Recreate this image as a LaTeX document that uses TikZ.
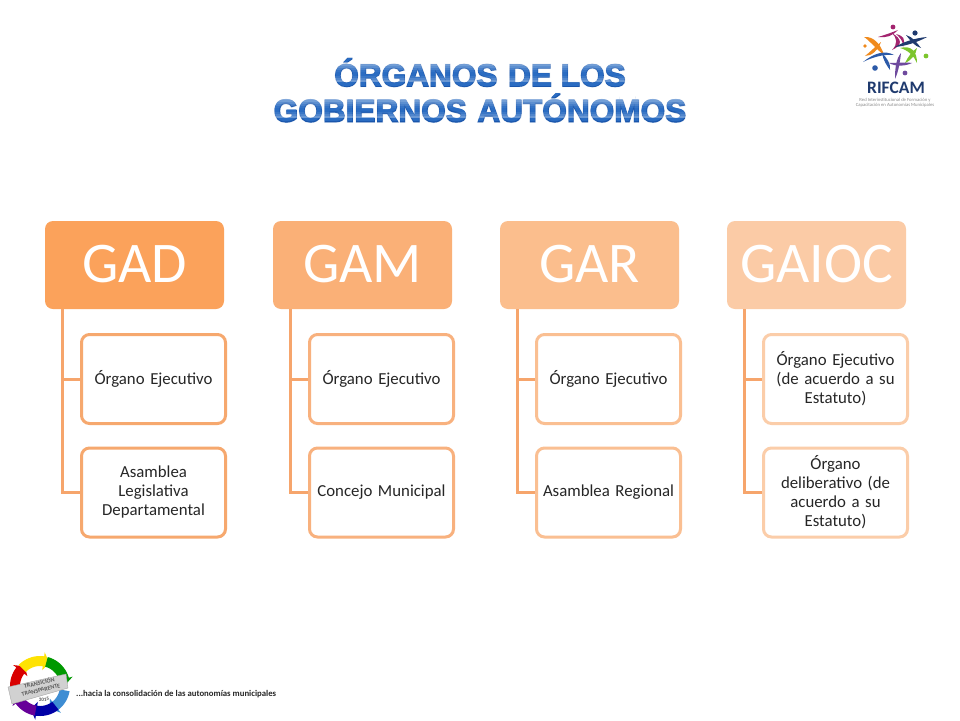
\documentclass[tikz,border=0pt]{standalone}
\usepackage{fontspec}
\setmainfont{Carlito}
\newfontfamily\titleA[FakeBold=3]{Liberation Sans Bold}
\newfontfamily\titleB{Liberation Sans Bold}
\newfontfamily\titleH[FakeBold=5.5]{Liberation Sans Bold}
\definecolor{cA}{HTML}{FBA25B}
\definecolor{cB}{HTML}{FAB077}
\definecolor{cC}{HTML}{FBBE8D}
\definecolor{cD}{HTML}{FBCBA6}
\definecolor{bA}{HTML}{F6A86E}
\definecolor{bB}{HTML}{F8B17E}
\definecolor{bC}{HTML}{FABF92}
\definecolor{bD}{HTML}{FBCDA9}
\definecolor{conn}{HTML}{F6A56C}
\definecolor{tdark}{HTML}{1A56AC}
\definecolor{tmid}{HTML}{2A6CC2}
\definecolor{thalo}{HTML}{D5E0EE}
\definecolor{nv}{HTML}{1F3A6E}
\definecolor{lgO}{HTML}{F08A1D}
\definecolor{lgM}{HTML}{A3246F}
\definecolor{lgG}{HTML}{7CC52C}
\definecolor{lgB}{HTML}{2C5AA8}
\definecolor{lgP}{HTML}{6F4A9E}
\tikzset{
  head/.style={rounded corners=8pt,fill=#1,draw=none,minimum width=179pt,minimum height=88pt,text=white,font=\fontsize{57.5}{58}\selectfont,inner sep=0pt},
  child/.style={rounded corners=8pt,draw=#1,line width=3pt,fill=white,minimum width=144pt,minimum height=89pt,text width=140pt,align=center,inner sep=2pt,font=\fontsize{16.8}{19}\selectfont,text=black!85},
  connline/.style={draw=conn,line width=3pt},
  tline/.style={font=\fontsize{31.6}{31.6}\selectfont,inner sep=0pt}
}
\newcommand{\ringseg}[3]{%
 \fill[#1] plot[smooth,domain=#2:#3-14,samples=12] ({40+30*cos(\x)},{686+30*sin(\x)})
  -- ({40+34*cos(#3-14)},{686+34*sin(#3-14)}) -- ({40+25*cos(#3)},{686+25*sin(#3)}) -- ({40+16*cos(#3-14)},{686+16*sin(#3-14)})
  -- plot[smooth,domain=#3-14:#2,samples=12] ({40+20*cos(\x)},{686+20*sin(\x)}) -- cycle;}
% tapered stroke: colour, start, control 1, control 2, end, offset of the return controls
\newcommand{\sw}[6]{\fill[#1] (#2) .. controls (#3) and (#4) .. (#5) .. controls ($(#4)+(#6)$) and ($(#3)+(#6)$) .. (#2) -- cycle;}
\usetikzlibrary{calc}
\begin{document}
\begin{tikzpicture}[x=1pt,y=-1pt]
\useasboundingbox (0,0) rectangle (960,720);
\fill[white] (0,0) rectangle (960,720);

% title
\node[tline,text=thalo] (t1h) at (480,72.5) {\titleH ÓRGANOS\,\,DE LOS};
\node[tline,text=thalo] (t2h) at (480,108) {\titleH GOBIERNOS\,\,AUTÓNOMOS};
\node[tline,text=tdark] (t1a) at (480,72.5) {\titleA ÓRGANOS\,\,DE LOS};
\node[tline,text=tdark] (t2a) at (480,108) {\titleA GOBIERNOS\,\,AUTÓNOMOS};
\node[tline,text=tmid] (t1b) at (480,72.5) {\titleB ÓRGANOS\,\,DE LOS};
\node[tline,text=tmid] (t2b) at (480,108) {\titleB GOBIERNOS\,\,AUTÓNOMOS};
\foreach \yy/\op in {2/.42,4/.34,6/.24,8/.14,10/.05,16/.08,18/.18,20/.3}{
  \fill[white,opacity=\op] (270,60+\yy) rectangle (690,62+\yy);
  \fill[white,opacity=\op] (270,95.5+\yy) rectangle (690,97.5+\yy);
}

% organigram
\node[head=cA] (gad) at (134.5,265) {\raisebox{2pt}{GAD}};
\node[head=cB] (gam) at (362.5,265) {\raisebox{2pt}{GAM}};
\node[head=cC] (gar) at (589.5,265) {\raisebox{2pt}{GAR}};
\node[head=cD] (gaioc) at (816.5,265) {\raisebox{2pt}{GAIOC}};
\node[child=bA] (gad1) at (153.5,379) {Órgano Ejecutivo};
\node[child=bA] (gad2) at (153.5,492.5) {Asamblea\\Legislativa\\Departamental};
\node[child=bB] (gam1) at (381.5,379) {Órgano Ejecutivo};
\node[child=bB] (gam2) at (381.5,492.5) {Concejo Municipal};
\node[child=bC] (gar1) at (608.5,379) {Órgano Ejecutivo};
\node[child=bC] (gar2) at (608.5,492.5) {Asamblea Regional};
\node[child=bD] (gaioc1) at (835.5,379) {Órgano Ejecutivo\\(de acuerdo a su\\Estatuto)};
\node[child=bD] (gaioc2) at (835.5,492.5) {Órgano\\deliberativo (de\\acuerdo a su\\Estatuto)};
\foreach \h in {gad,gam,gar,gaioc}{
  \draw[connline] ([xshift=17.5pt]\h.south west) |- (\h1.west);
  \draw[connline] ([xshift=17.5pt]\h.south west) |- (\h2.west);
}

% RIFCAM logo
\sw{lgO}{864,37}{874,36}{881,45}{884,55}{-5,4}
\sw{lgO}{865,56}{872,56}{878,50}{881,42}{-2,-4}
\fill[lgO] (865,46) circle (1.8pt);
\sw{lgM}{878,37}{887,38}{892,36}{898,30}{1,-4}
\sw{lgM}{892,33}{897,38}{898,44}{892,50}{5,1}
\sw{lgM}{896,34}{900,38}{903,40}{903,47}{3,-2}
\fill[lgM] (893,27) circle (2.4pt);
\sw{nv}{895,47}{906,46}{918,42}{927,37}{-3,-4}
\sw{nv}{906,35}{910,40}{914,46}{921,48}{3,-3}
\fill[nv] (915,33) circle (2.6pt);
\sw{lgG}{900,48}{908,50}{914,56}{917,63}{3,-5}
\sw{lgG}{917,48}{916,54}{912,60}{905,63}{-4,-3}
\fill[lgG] (926,56) circle (2.4pt);
\sw{lgB}{863,62}{873,57}{884,54}{894,55}{1,-4}
\sw{lgB}{882,53}{883,60}{887,66}{890,70}{4,-2}
\fill[lgB] (875,68) circle (2.8pt);
\sw{lgP}{889,63}{896,67}{906,66}{912,63}{-1,-4}
\sw{lgP}{901,53}{900,61}{899,70}{895,79}{-4,-2}
\fill[lgP] (905,73) circle (2.4pt);
\node[font=\bfseries\fontsize{17.5}{17.5}\selectfont,text=nv,inner sep=0pt] (rifcam) at (896,88) {RIFCAM};
\node[font=\fontsize{4.7}{5.2}\selectfont,text=black!45,inner sep=0pt,align=center] (rifsub) at (895,103) {Red Interinstitucional de Formación y\\Capacitación en Autonomías Municipales};

% transition logo
\ringseg{red!85!black}{160}{232}
\ringseg{yellow!85!orange}{225}{292}
\ringseg{green!60!black}{285}{358}
\ringseg{cyan!60!blue!80!white}{10}{66}
\ringseg{blue!65!black}{52}{112}
\ringseg{violet!80!blue}{100}{158}
\fill[black!18,draw=black!35,line width=.4pt] (8,687) -- (66,674) -- (68,688) -- (12,704) -- cycle;
\node[font=\bfseries\fontsize{6}{7}\selectfont,text=black!65,rotate=13,inner sep=0pt,align=center] (trans) at (40,686) {TRANSICIÓN\\TRANSPARENTE};
\node[font=\bfseries\fontsize{5}{5}\selectfont,text=black!70,rotate=5,inner sep=0pt] (year) at (44,699.5) {2015};
\node[font=\bfseries\fontsize{8.75}{8.75}\selectfont,text=black!85,inner sep=0pt,anchor=west] (lema) at (76,694.5) {...hacia la consolidación de las autonomías municipales};
\end{tikzpicture}
\end{document}
